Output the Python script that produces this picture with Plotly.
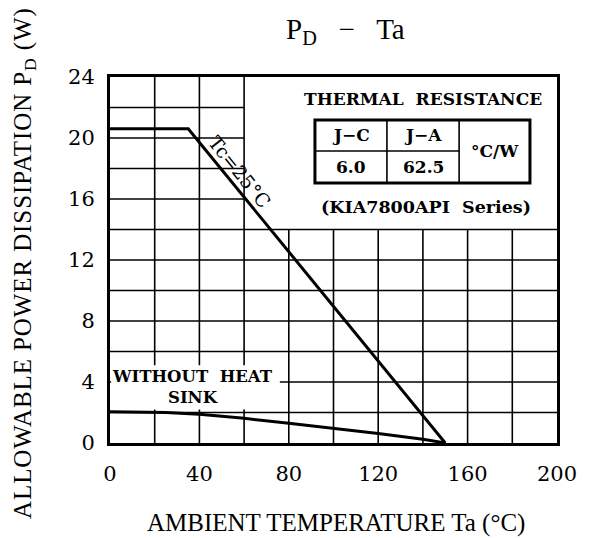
import plotly.graph_objects as go

# ---- data ----
ta_tc = [0, 35, 150]
pd_tc = [20.6, 20.6, 0.0]

ta_nohs = [0, 25, 40, 60, 80, 100, 120, 140, 150]
pd_nohs = [2.05, 2.0, 1.88, 1.62, 1.29, 0.96, 0.62, 0.25, 0.0]

x_ticks = [0, 40, 80, 120, 160, 200]
y_ticks = [0, 4, 8, 12, 16, 20, 24]
x_grid = [20, 40, 60, 80, 100, 120, 140, 160, 180]
y_grid = [2, 4, 6, 8, 10, 12, 14, 16, 18, 20, 22]

table_header = ["J−C", "J−A"]
table_values = ["6.0", "62.5"]
table_unit = "°C/W"

SERIF = "DejaVu Serif"
TSERIF = "Liberation Serif"

fig = go.Figure()

fig.add_trace(go.Scatter(x=ta_tc, y=pd_tc, mode="lines",
                         line=dict(color="black", width=3), showlegend=False))
fig.add_trace(go.Scatter(x=ta_nohs, y=pd_nohs, mode="lines",
                         line=dict(color="black", width=3), showlegend=False))

shapes = []
# grid (drawn as shapes so that the inset box region stays blank)
for gx in x_grid:
    top = 24 if gx <= 60 else 14
    shapes.append(dict(type="line", xref="x", yref="y", x0=gx, x1=gx, y0=0, y1=top,
                       line=dict(color="black", width=1.6), layer="below"))
for gy in y_grid:
    right = 200 if gy <= 14 else 60
    shapes.append(dict(type="line", xref="x", yref="y", x0=0, x1=right, y0=gy, y1=gy,
                       line=dict(color="black", width=1.6), layer="below"))
# blank area behind "WITHOUT HEAT SINK"
shapes.append(dict(type="rect", xref="x", yref="y", x0=0.5, x1=76, y0=2.2, y1=5.1,
                   fillcolor="white", line=dict(width=0), layer="below"))
# thermal resistance table
tx0, tx1, tc1, tc2 = 91.7, 187.9, 123.9, 156.2
ty0, ty1, tym = 17.05, 21.18, 19.15
shapes.append(dict(type="rect", xref="x", yref="y", x0=tx0, x1=tx1, y0=ty0, y1=ty1,
                   line=dict(color="black", width=3), fillcolor="rgba(0,0,0,0)"))
for cx in (tc1, tc2):
    shapes.append(dict(type="line", xref="x", yref="y", x0=cx, x1=cx, y0=ty0, y1=ty1,
                       line=dict(color="black", width=1.6)))
shapes.append(dict(type="line", xref="x", yref="y", x0=tx0, x1=tc2, y0=tym, y1=tym,
                   line=dict(color="black", width=1.6)))

annotations = []
def txt(x, y, s, size, family=SERIF, bold=False, angle=0, xref="x", yref="y", **kw):
    if bold:
        s = "<b>" + s + "</b>"
    annotations.append(dict(x=x, y=y, xref=xref, yref=yref, text=s, showarrow=False,
                            xanchor="center", yanchor="middle",
                            textangle=angle, font=dict(family=family, size=size, color="black"),
                            **kw))

txt(140.0, 22.55, "THERMAL  RESISTANCE", 17, bold=True)
txt((tx0 + tc1) / 2, 20.17, table_header[0], 17, bold=True)
txt((tc1 + tc2) / 2, 20.17, table_header[1], 17, bold=True)
txt((tx0 + tc1) / 2, 18.1, table_values[0], 17, bold=True)
txt((tc1 + tc2) / 2, 18.1, table_values[1], 17, bold=True)
txt((tc2 + tx1) / 2, 19.15, table_unit, 17, bold=True)
txt(141.4, 15.45, "(KIA7800API  Series)", 17.5, bold=True)
txt(37.0, 3.65, "WITHOUT  HEAT<br>SINK", 16.5, bold=True)
txt(58.2, 17.8, "Tc=25°C", 19, angle=51)

# titles
txt(0.526, 1.125, "P<sub>D</sub>   −   Ta", 29, family=TSERIF, xref="paper", yref="paper")
txt(0.506, -0.219, "AMBIENT TEMPERATURE Ta (°C)", 25, family=TSERIF,
    xref="paper", yref="paper")
txt(-0.19, 0.492,
    '<span style="letter-spacing:0.9px">ALLOWABLE POWER DISSIPATION P<sub>D</sub> (W)</span>',
    25, family=TSERIF, angle=-90, xref="paper", yref="paper")

# the page body adds an 8 px margin, so the figure is 8 px smaller each way
fig.update_layout(
    width=588, height=530,
    margin=dict(l=102, r=39, t=69, b=95),
    paper_bgcolor="white", plot_bgcolor="white",
    shapes=shapes, annotations=annotations,
    font=dict(family=SERIF, color="black"),
)
fig.update_xaxes(range=[0, 200], tickvals=x_ticks, showgrid=False, zeroline=False,
                 showline=True, mirror=True, linecolor="black", linewidth=3,
                 ticks="outside", ticklen=10, tickcolor="rgba(0,0,0,0)",
                 tickfont=dict(family=SERIF, size=21))
fig.update_yaxes(range=[0, 24], tickvals=y_ticks, showgrid=False, zeroline=False,
                 showline=True, mirror=True, linecolor="black", linewidth=3,
                 ticks="outside", ticklen=8, tickcolor="rgba(0,0,0,0)",
                 tickfont=dict(family=SERIF, size=21))

fig.write_html("out.html")
